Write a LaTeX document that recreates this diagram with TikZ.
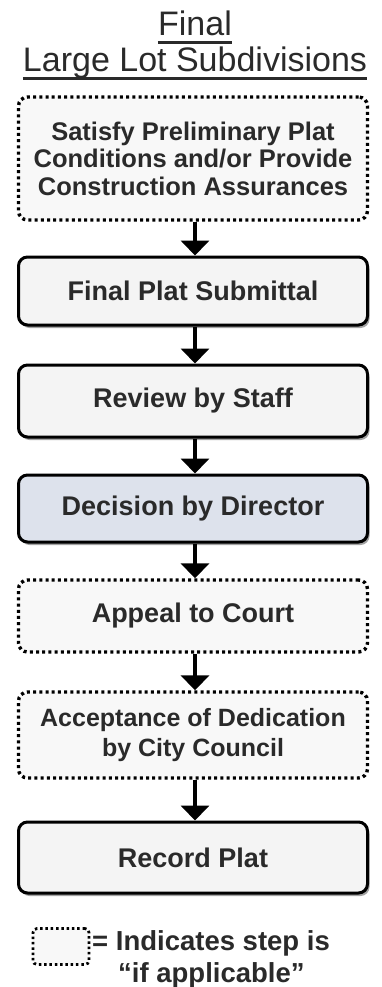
\documentclass[tikz,border=0pt]{standalone}
\usepackage{fontspec}
\setmainfont{Liberation Sans}
\usetikzlibrary{arrows.meta,shadows,calc}
\definecolor{txt}{HTML}{2A2A2A}
\definecolor{boxfill}{HTML}{F4F4F4}
\definecolor{dotfill}{HTML}{F8F8F8}
\definecolor{bluefill}{HTML}{DDE2EC}
\tikzset{
  solidbox/.style={draw=black, line width=3pt, rounded corners=9pt, fill=boxfill,
    minimum width=349pt, text=txt, align=center, inner sep=0pt,
    font=\bfseries\fontsize{27}{30}\selectfont,
    drop shadow={shadow xshift=2pt, shadow yshift=-3pt, fill=black!45, opacity=0.8}},
  dotbox/.style={draw=black, line width=3.4pt, dash pattern=on 3pt off 3.2pt,
    rounded corners=9pt, fill=dotfill, minimum width=349pt, text=txt, align=center,
    inner sep=0pt, font=\bfseries\fontsize{27}{30}\selectfont},
  arr/.style={line width=4pt, draw=black, -{Triangle[width=28pt,length=15pt]}},
  titletext/.style={text=txt, inner sep=0pt, font=\fontsize{34}{38}\selectfont},
  legtext/.style={text=txt, inner sep=0pt, anchor=base west, font=\bfseries\fontsize{27.5}{30}\selectfont},
}
\begin{document}
\begin{tikzpicture}[x=1pt,y=-1pt]
\useasboundingbox[fill=white] (0,0) rectangle (382,987);
% title
\node[titletext, anchor=base] (t1) at (195,36) {Final};
\node[titletext, anchor=base] (t2) at (195,72) {Large Lot Subdivisions};
\draw[line width=3pt, txt] ($(t1.base west)+(0,7)$) -- ($(t1.base east)+(0,7)$);
\draw[line width=3pt, txt] ($(t2.base west)+(0,7)$) -- ($(t2.base east)+(0,7)$);
% boxes
\node[dotbox, minimum height=123pt, font=\bfseries\fontsize{25.5}{27.5}\selectfont] (b1) at (193,158.5)
  {Satisfy Preliminary Plat\\Conditions and/or Provide\\Construction Assurances};
\node[solidbox, minimum height=68pt] (b2) at (193,291) {Final Plat Submittal};
\node[solidbox, minimum height=72pt] (b3) at (193,401) {Review by Staff};
\node[solidbox, minimum height=67pt, fill=bluefill] (b4) at (193,508.5) {Decision by Director};
\node[dotbox, minimum height=72pt] (b5) at (193,616) {Appeal to Court};
\node[dotbox, minimum height=86pt, font=\bfseries\fontsize{25}{30}\selectfont] (b6) at (193,735)
  {Acceptance of Dedication\\by City Council};
\node[solidbox, minimum height=71pt] (b7) at (193,857.5) {Record Plat};
% arrows
\coordinate (ax) at (195,0);
\draw[arr] (b1.south -| ax) -- (b2.north -| ax);
\draw[arr] (b2.south -| ax) -- (b3.north -| ax);
\draw[arr] (b3.south -| ax) -- (b4.north -| ax);
\draw[arr] (b4.south -| ax) -- (b5.north -| ax);
\draw[arr] (b5.south -| ax) -- (b6.north -| ax);
\draw[arr] (b6.south -| ax) -- (b7.north -| ax);
% legend
\node[draw=black, line width=2.8pt, dash pattern=on 2.5pt off 2.8pt, rounded corners=4pt,
  fill=dotfill, minimum width=56pt, minimum height=36pt, inner sep=0pt] (lg) at (61,946.5) {};
\node[legtext] (l1) at (92,950) {= Indicates step is};
\node[legtext] (l2) at (118,982) {“if applicable”};
\end{tikzpicture}
\end{document}
